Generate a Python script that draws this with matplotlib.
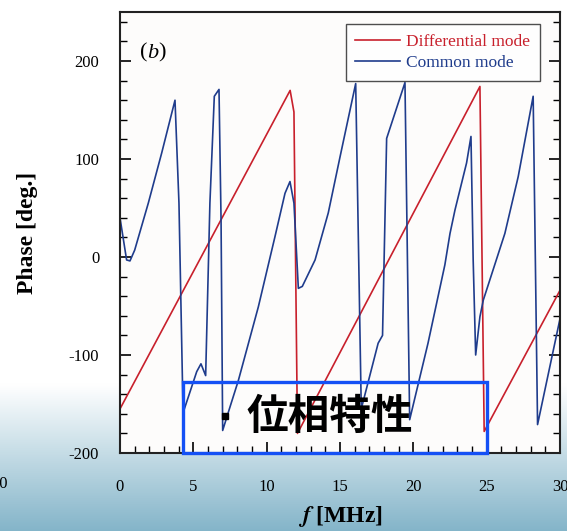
import numpy as np
import matplotlib
matplotlib.use('Agg')
import matplotlib.pyplot as plt
from matplotlib.patches import Rectangle
from matplotlib.lines import Line2D
from matplotlib.ticker import MultipleLocator

plt.rcParams['font.family'] = ['Liberation Serif', 'DejaVu Serif']
plt.rcParams['mathtext.fontset'] = 'stix'
plt.rcParams['axes.unicode_minus'] = False

# differential mode phase (deg) vs frequency (MHz)
f_diff = [0, 11.6, 11.86, 12.1, 24.54, 24.83, 30]
p_diff = [-155, 170, 148, -180, 174, -178, -34]

# common mode phase
f_comm = [0, 0.45, 0.68, 1.0, 1.93, 2.84, 3.75, 4.02, 4.3, 5.23, 5.52, 5.84,
          6.13, 6.43, 6.75, 6.89, 7.0, 7.5, 8.07, 9.43, 10.57, 11.25, 11.59,
          11.86, 12.16, 12.43, 13.3, 14.2, 15.0, 16.07, 16.45, 17.6, 17.9,
          18.18, 19.43, 19.75, 21.0, 22.15, 22.5, 22.84, 23.63, 23.93, 24.08,
          24.25, 24.54, 24.77, 26.24, 27.15, 28.17, 28.47, 30]
p_comm = [40, -3, -4, 7, 55, 106, 160, 55, -159, -117, -109, -121,
          55, 164, 171, 38, -177, -153, -126, -51, 21, 65, 77,
          55, -32, -30, -3, 45, 102, 177, -155, -88, -80,
          121, 178, -166, -88, -8, 24, 48, 96, 123, -3,
          -100, -61, -44, 24, 82, 164, -171, -63]

xticks = [0, 5, 10, 15, 20, 25, 30]
yticks = [-200, -100, 0, 100, 200]

red = '#c8202c'
blue = '#1f3c8c'

fig = plt.figure(figsize=(5.67, 5.31), dpi=100)
fig.patch.set_facecolor('white')

# gradient background at the bottom of the slide
bg = fig.add_axes([0, 0, 1, 1], zorder=-10)
n = 256
yy = np.linspace(0, 1, n)[:, None]
top_col = np.array([1.0, 1.0, 1.0])
bot_col = np.array([0.52, 0.71, 0.79])
start = 1 - 385 / 531
t = np.clip((start - yy) / start, 0, 1)
grad = top_col + (bot_col - top_col) * t
grad = np.repeat(grad[:, None, :], 4, axis=1).reshape(n, 4, 3)
bg.imshow(grad, extent=[0, 1, 0, 1], aspect='auto', origin='lower')
bg.axis('off')

ax = fig.add_axes([120 / 567, 78 / 531, 440 / 567, 441 / 531], zorder=1)
ax.set_facecolor('#fdfcfb')

ax.plot(f_diff, p_diff, color=red, lw=1.2, label='Differential mode')
ax.plot(f_comm, p_comm, color=blue, lw=1.2, label='Common mode')

ax.set_xlim(0, 30)
ax.set_ylim(-200, 250)
ax.set_xticks(xticks)
ax.set_yticks(yticks)
ax.xaxis.set_minor_locator(MultipleLocator(1))
ax.yaxis.set_minor_locator(MultipleLocator(20))
ax.tick_params(which='both', direction='in', left=True, right=True, top=False,
               bottom=True, labelsize=12)
ax.tick_params(which='major', length=8, width=1.2)
ax.tick_params(which='minor', length=5, width=1.0)
ax.tick_params(axis='x', pad=19)
ax.tick_params(axis='y', pad=15)
for s in ax.spines.values():
    s.set_linewidth(1.5)
    s.set_color('#222222')

ax.set_xlabel(r'$\mathbfit{f}$ [MHz]', fontsize=17, fontweight='bold', labelpad=6)
ax.set_ylabel('Phase [deg.]', fontsize=17, fontweight='bold', labelpad=22)

fig.text(140 / 567, 1 - 53 / 531, '(', fontsize=16, va='center')
fig.text(147 / 567, 1 - 53 / 531, 'b', fontsize=16, va='center', style='italic')
fig.text(158 / 567, 1 - 53 / 531, ')', fontsize=16, va='center')

leg = ax.legend(loc='upper right', bbox_to_anchor=(0.9545, 0.973), fontsize=12.5,
                frameon=True, fancybox=False, edgecolor='#222222',
                handlelength=2.6, handletextpad=0.35, labelspacing=0.3,
                borderpad=0.55, borderaxespad=0)
leg.get_frame().set_linewidth(1.0)
for txt, c in zip(leg.get_texts(), [red, blue]):
    txt.set_color(c)

# annotation box with the slide caption
ax.add_patch(Rectangle((4.29, -200), 25.0 - 4.29, 72.5, fill=False,
                       edgecolor='#1450f5', lw=2.4, clip_on=False, zorder=6))
fig.add_artist(Line2D([225 / 567], [1 - 416 / 531], marker='s', ms=5,
                      color='black', transform=fig.transFigure))
fig.text(246 / 567, 1 - 417 / 531, '位相特性', fontsize=30, fontweight='bold',
         va='center', ha='left', family=['Noto Sans CJK JP', 'DejaVu Sans'])

# clipped tick label from the neighbouring panel
fig.text(8 / 567, 1 - 484 / 531, '30', fontsize=12, ha='right', va='center')

fig.savefig('out.png', dpi=100)
